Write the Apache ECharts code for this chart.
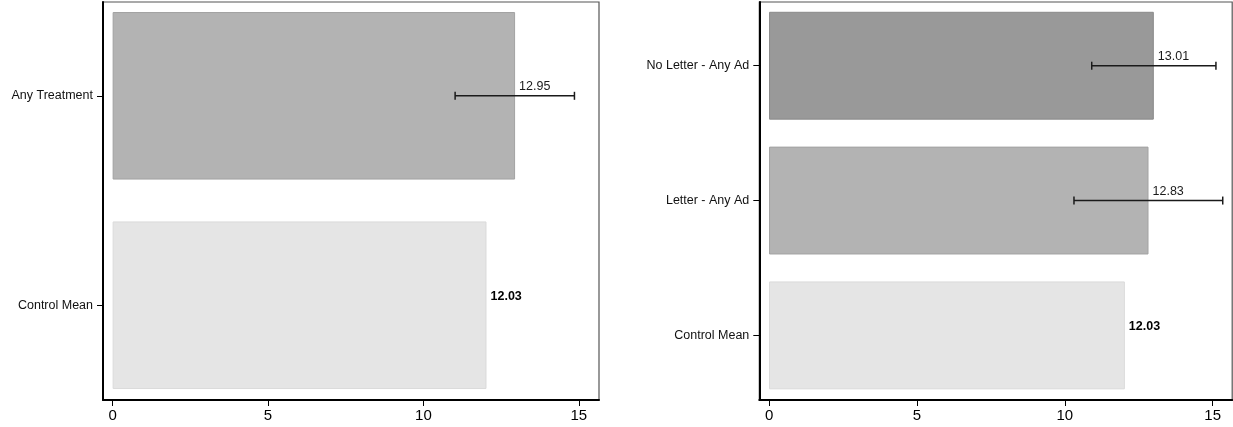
<!DOCTYPE html>
<html>
<head>
<meta charset="utf-8">
<script src="https://cdn.jsdelivr.net/npm/echarts@6/dist/echarts.min.js"></script>
<style>
html,body{margin:0;padding:0;background:#fff;}
#chart{width:1233px;height:427px;}
</style>
</head>
<body>
<div id="chart"></div>
<script>
// ---- data ----
const leftCategories = ['Any Treatment', 'Control Mean'];
const leftValues = [12.95, 12.03];
const leftCiLow = [11.02, null];
const leftCiHigh = [14.86, null];

const rightCategories = ['No Letter - Any Ad', 'Letter - Any Ad', 'Control Mean'];
const rightValues = [13.01, 12.83, 12.03];
const rightCiLow = [10.91, 10.31, null];
const rightCiHigh = [15.11, 15.34, null];

const xTickValues = [0, 5, 10, 15];

// ---- styles ----
const leftColors = ['#b3b3b3', '#e5e5e5'];
const leftBorders = ['#a2a2a2', '#dadada'];
const rightColors = ['#999999', '#b3b3b3', '#e5e5e5'];
const rightBorders = ['#8a8a8a', '#a2a2a2', '#dadada'];

const FONT = "'Liberation Sans', Arial, Helvetica, sans-serif";

const panels = [
  { cats: leftCategories, vals: leftValues, lo: leftCiLow, hi: leftCiHigh,
    colors: leftColors, borders: leftBorders,
    frame: { left: 103, right: 634, top: 2, bottom: 27 },
    xMin: -0.31, xMax: 15.65, barTop: -8.9, barHeight: 418.8 },
  { cats: rightCategories, vals: rightValues, lo: rightCiLow, hi: rightCiHigh,
    colors: rightColors, borders: rightBorders,
    frame: { left: 759.3, right: 0.8, top: 2, bottom: 27 },
    xMin: -0.33, xMax: 15.66, barTop: -1.7, barHeight: 404.5 }
];

const grid = [], xAxis = [], yAxis = [], series = [];

panels.forEach((p) => {
  const fi = grid.length;      // frame grid index
  const bi = fi + 1;           // bar grid index
  grid.push({ left: p.frame.left, right: p.frame.right, top: p.frame.top, bottom: p.frame.bottom,
              outerBoundsMode: 'none', containLabel: false,
              show: true, borderColor: '#555', borderWidth: 1.2, backgroundColor: 'transparent' });
  grid.push({ left: p.frame.left, right: p.frame.right, top: p.barTop, height: p.barHeight,
              outerBoundsMode: 'none', containLabel: false, show: false });

  // frame axes
  xAxis.push({ gridIndex: fi, type: 'value', min: p.xMin, max: p.xMax, position: 'bottom',
    axisLine: { show: true, onZero: false, lineStyle: { color: '#000', width: 2 } },
    axisTick: { show: true, inside: false, customValues: xTickValues, length: 6, lineStyle: { color: '#000', width: 1 } },
    axisLabel: { show: true, customValues: xTickValues, fontSize: 15, margin: 8, color: '#000', fontFamily: FONT },
    splitLine: { show: false } });
  yAxis.push({ gridIndex: fi, type: 'value', min: 0, max: 1, position: 'left',
    axisLine: { show: true, onZero: false, lineStyle: { color: '#000', width: 2 } },
    axisTick: { show: false }, axisLabel: { show: false }, splitLine: { show: false } });

  // bar axes
  const bxi = xAxis.length;
  xAxis.push({ gridIndex: bi, type: 'value', min: p.xMin, max: p.xMax, show: false });
  const byi = yAxis.length;
  yAxis.push({ gridIndex: bi, type: 'category', data: p.cats, inverse: true, position: 'left',
    axisLine: { show: false, onZero: false },
    axisTick: { show: true, inside: false, alignWithLabel: true, length: 6, lineStyle: { color: '#000', width: 1 } },
    axisLabel: { fontSize: 12.5, margin: 10, color: '#111', fontFamily: FONT },
    splitLine: { show: false } });

  series.push({
    type: 'bar', xAxisIndex: bxi, yAxisIndex: byi, barCategoryGap: '20%', z: 2,
    data: p.vals.map((v, i) => {
      const isControl = p.cats[i] === 'Control Mean';
      return {
        value: v,
        itemStyle: { color: p.colors[i], borderColor: p.borders[i], borderWidth: 1 },
        label: {
          show: true, position: 'right', distance: 4, offset: [0, -9],
          formatter: (d) => Number(d.value).toFixed(2),
          fontSize: 12.5, fontFamily: FONT,
          color: isControl ? '#000' : '#1a1a1a',
          fontWeight: isControl ? 'bold' : 'normal'
        }
      };
    })
  });

  const ciData = [];
  p.cats.forEach((c, i) => { if (p.lo[i] != null) ciData.push([p.lo[i], p.hi[i], i]); });
  series.push({
    type: 'custom', xAxisIndex: bxi, yAxisIndex: byi, z: 5,
    encode: { x: [0, 1], y: 2 },
    data: ciData,
    renderItem: (params, api) => {
      const a = api.coord([api.value(0), api.value(2)]);
      const b = api.coord([api.value(1), api.value(2)]);
      const st = { stroke: '#1a1a1a', lineWidth: 1.5 };
      const cap = 4;
      return { type: 'group', children: [
        { type: 'line', shape: { x1: a[0], y1: a[1], x2: b[0], y2: b[1] }, style: st },
        { type: 'line', shape: { x1: a[0], y1: a[1] - cap, x2: a[0], y2: a[1] + cap }, style: st },
        { type: 'line', shape: { x1: b[0], y1: b[1] - cap, x2: b[0], y2: b[1] + cap }, style: st }
      ] };
    }
  });
});

const chart = echarts.init(document.getElementById('chart'), null, { renderer: 'canvas' });
chart.setOption({
  animation: false,
  backgroundColor: '#fff',
  textStyle: { fontFamily: FONT },
  grid, xAxis, yAxis, series
});
</script>
</body>
</html>
